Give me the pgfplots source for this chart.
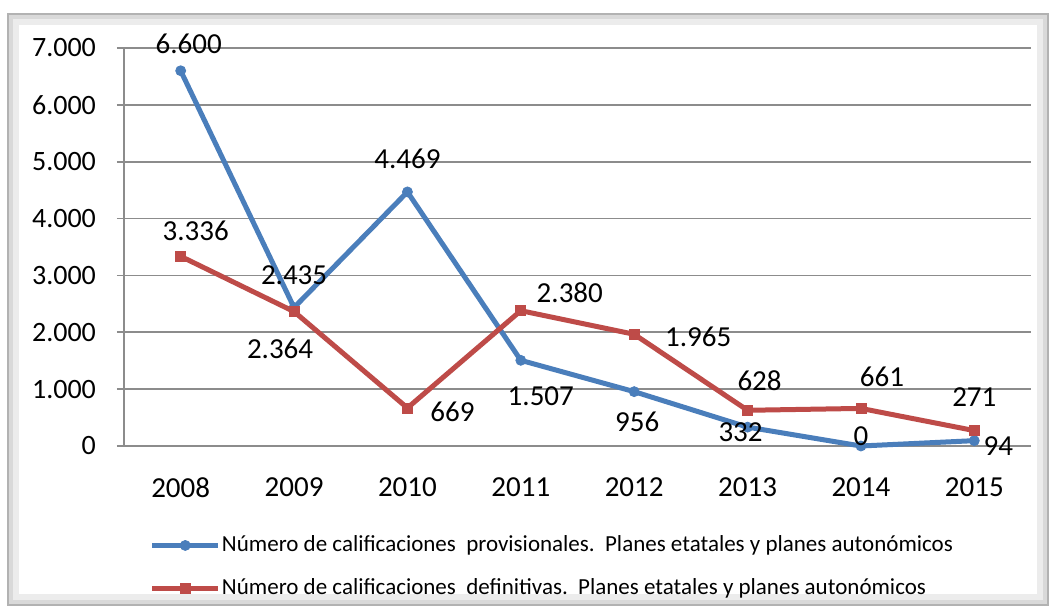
\documentclass[border=0pt]{standalone}
\usepackage{pgfplots}
\pgfplotsset{compat=1.18}
\usepackage{pgfplotstable}
\usepackage{fontspec}
\setmainfont{Carlito}
\definecolor{cblue}{HTML}{4A7EBB}
\definecolor{cred}{HTML}{BE4B48}
\definecolor{cgrid}{HTML}{8C8C8C}
\pgfplotstableread{
x y lbl dx dy
0 6600 6.600 4 13.5
1 2435 2.435 0 16
2 4469 4.469 0 16.5
3 1507 1.507 10 -18
4 956 956 1.5 -15
5 332 332 -3.5 -2.5
6 0 0 0 5
7 94 94 12 -2.5
}\provisional
\pgfplotstableread{
x y lbl dx dy
0 3336 3.336 7.5 13
1 2364 2.364 -7 -18.5
2 669 669 22.5 -2
3 2380 2.380 24.5 9
4 1965 1.965 32 -1.5
5 628 628 6 15
6 661 661 10.5 16
7 271 271 0 17
}\definitive
\begin{document}
\begin{tikzpicture}
\path[use as bounding box] (-62pt,-82.5pt) rectangle (463.5pt,223pt);
\fill[white] (-62pt,-82.5pt) rectangle (463.5pt,223pt);
% frame with soft shadow
\draw[gray!15, line width=5pt] (-55pt,-76.5pt) rectangle (459pt,213pt);
\draw[gray!30, line width=2pt] (-56.5pt,-78pt) rectangle (460.5pt,214.5pt);
\draw[gray!60, line width=1.2pt] (-58pt,-79.5pt) rectangle (462pt,216pt);
\begin{axis}[
  at={(0,0)}, anchor=south west,
  scale only axis, width=453.5pt, height=199pt,
  xmin=-0.5, xmax=7.5, ymin=0, ymax=7000,
  axis x line*=bottom, axis y line*=left,
  axis line style={-, cgrid, line width=0.8pt},
  ytick={0,1000,...,7000},
  ymajorgrids, grid style={cgrid, line width=0.8pt},
  xtick={0,...,7},
  xticklabels={2008,2009,2010,2011,2012,2013,2014,2015},
  major x tick style={draw=none},
  extra x ticks={-0.5,0.5,...,7.5},
  extra x tick labels={},
  extra x tick style={major tick length=4.5pt, tick style={cgrid, line width=0.8pt}, grid=none},
  major tick length=3.5pt,
  tick align=outside,
  tick style={cgrid, line width=0.8pt},
  /pgf/number format/assume math mode=true,
  /pgf/number format/1000 sep={.},
  yticklabel style={font=\fontsize{14}{16}\selectfont, xshift=-7pt},
  xticklabel style={font=\fontsize{14.5}{16}\selectfont, yshift=-9pt},
  legend style={at={(0.028,-0.215)}, anchor=north west, draw=none, fill=none,
    font=\fontsize{11.5}{13}\selectfont, row sep=8pt, inner sep=0pt,
    nodes={inner xsep=0.6pt}},
  legend cell align=left,
  legend image code/.code={\draw[mark repeat=2,mark phase=2] plot coordinates {(0pt,0pt)(16.5pt,0pt)(33pt,0pt)};},
  nodes near coords,
  point meta=explicit symbolic,
  visualization depends on={\thisrow{dx} \as \dx},
  visualization depends on={\thisrow{dy} \as \dy},
  every node near coord/.style={anchor=center, xshift=\dx pt, yshift=\dy pt, font=\fontsize{14.5}{16}\selectfont, text=black},
  clip=false,
]
\addplot[cblue, line width=2.5pt, mark=*, mark size=2.5pt, mark options={solid, line width=0.4pt}] table[x=x, y=y, meta=lbl] {\provisional};
\addlegendentry{Número de calificaciones\ \ provisionales.\ \ Planes etatales y planes autonómicos}
\addplot[cred, line width=2.5pt, mark=square*, mark size=2.5pt, mark options={solid, line width=0.4pt}] table[x=x, y=y, meta=lbl] {\definitive};
\addlegendentry{Número de calificaciones\ \ definitivas.\ \ Planes etatales y planes autonómicos}
\end{axis}
\end{tikzpicture}
\end{document}
